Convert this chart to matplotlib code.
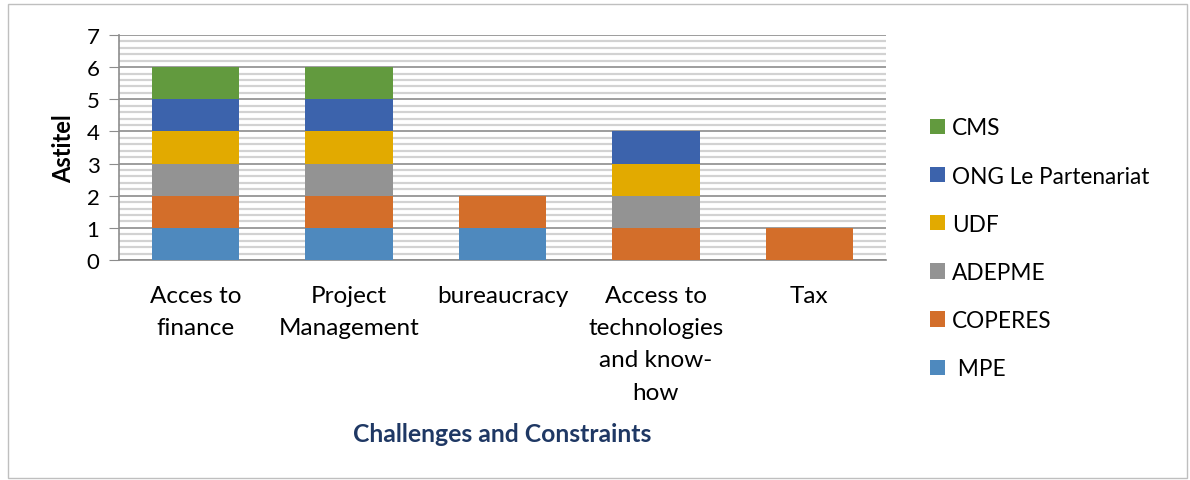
import matplotlib
matplotlib.use("Agg")
import matplotlib.pyplot as plt
import numpy as np
from matplotlib.patches import Rectangle
from matplotlib.ticker import MultipleLocator

plt.rcParams['font.family'] = ['Lato', 'DejaVu Sans']

categories = ["Acces to\nfinance", "Project\nManagement", "bureaucracy",
              "Access to\ntechnologies\nand know-\nhow", "Tax"]
series_names = [" MPE", "COPERES", "ADEPME", "UDF", "ONG Le Partenariat", "CMS"]
mpe = [1, 1, 1, 0, 0]
coperes = [1, 1, 1, 1, 1]
adepme = [1, 1, 0, 1, 0]
udf = [1, 1, 0, 1, 0]
ong = [1, 1, 0, 1, 0]
cms = [1, 1, 0, 0, 0]
series_values = [mpe, coperes, adepme, udf, ong, cms]
colors = ["#4E89BE", "#D36E2A", "#939393", "#E2AA00", "#3C63AC", "#629A3E"]

fig = plt.figure(figsize=(11.9, 4.81), dpi=100)
ax = fig.add_axes([0.1, 0.4574, 0.6445, 0.4678])

# outer chart frame
fig.patches.append(Rectangle((8 / 1190, 2 / 481), 1179 / 1190, 474 / 481,
                             transform=fig.transFigure, fill=False,
                             edgecolor="#BFBFBF", linewidth=1.0))

x = np.arange(len(categories))
bottom = np.zeros(len(categories))
handles = []
for name, vals, col in zip(series_names, series_values, colors):
    vals = np.array(vals, dtype=float)
    b = ax.bar(x, vals, width=0.57, bottom=bottom, color=col, label=name,
               zorder=3, linewidth=0)
    handles.append(b)
    bottom += vals

ax.set_xlim(-0.5, len(categories) - 0.5)
ax.set_ylim(0, 7)
ax.yaxis.set_major_locator(MultipleLocator(1))
ax.yaxis.set_minor_locator(MultipleLocator(0.2))
ax.grid(axis="y", which="minor", color="#D2D2D2", linewidth=1.6, zorder=0)
ax.grid(axis="y", which="major", color="#8C8C8C", linewidth=1.2, zorder=1)
ax.set_axisbelow(True)

for s in ["top", "right"]:
    ax.spines[s].set_visible(False)
ax.spines["left"].set_color("#8C8C8C")
ax.spines["bottom"].set_color("#8C8C8C")
ax.spines["left"].set_linewidth(1.2)
ax.spines["bottom"].set_linewidth(1.2)

ax.tick_params(axis="y", which="major", length=7, color="#8C8C8C",
               labelsize=16, pad=7)
ax.tick_params(axis="y", which="minor", length=0)
ax.tick_params(axis="x", length=0, labelsize=17.5, pad=18)
ax.set_xticks(x)
ax.set_xticklabels(categories, linespacing=1.66)

ax.set_ylabel("Astitel", fontsize=17, fontweight="bold", labelpad=8)
fig.text(0.4223, 1 - 435 / 481, "Challenges and Constraints", ha="center",
         va="center", fontsize=17.8, fontweight="bold", color="#1F3864")

ax.legend(handles[::-1], series_names[::-1], loc="upper left",
          bbox_to_anchor=(910 / 1190, 1 - 98 / 481),
          bbox_transform=fig.transFigure, frameon=False, fontsize=16.3,
          handlelength=0.66, handleheight=0.66, handletextpad=0.28,
          labelspacing=1.2)

fig.savefig("out.png", dpi=100)
